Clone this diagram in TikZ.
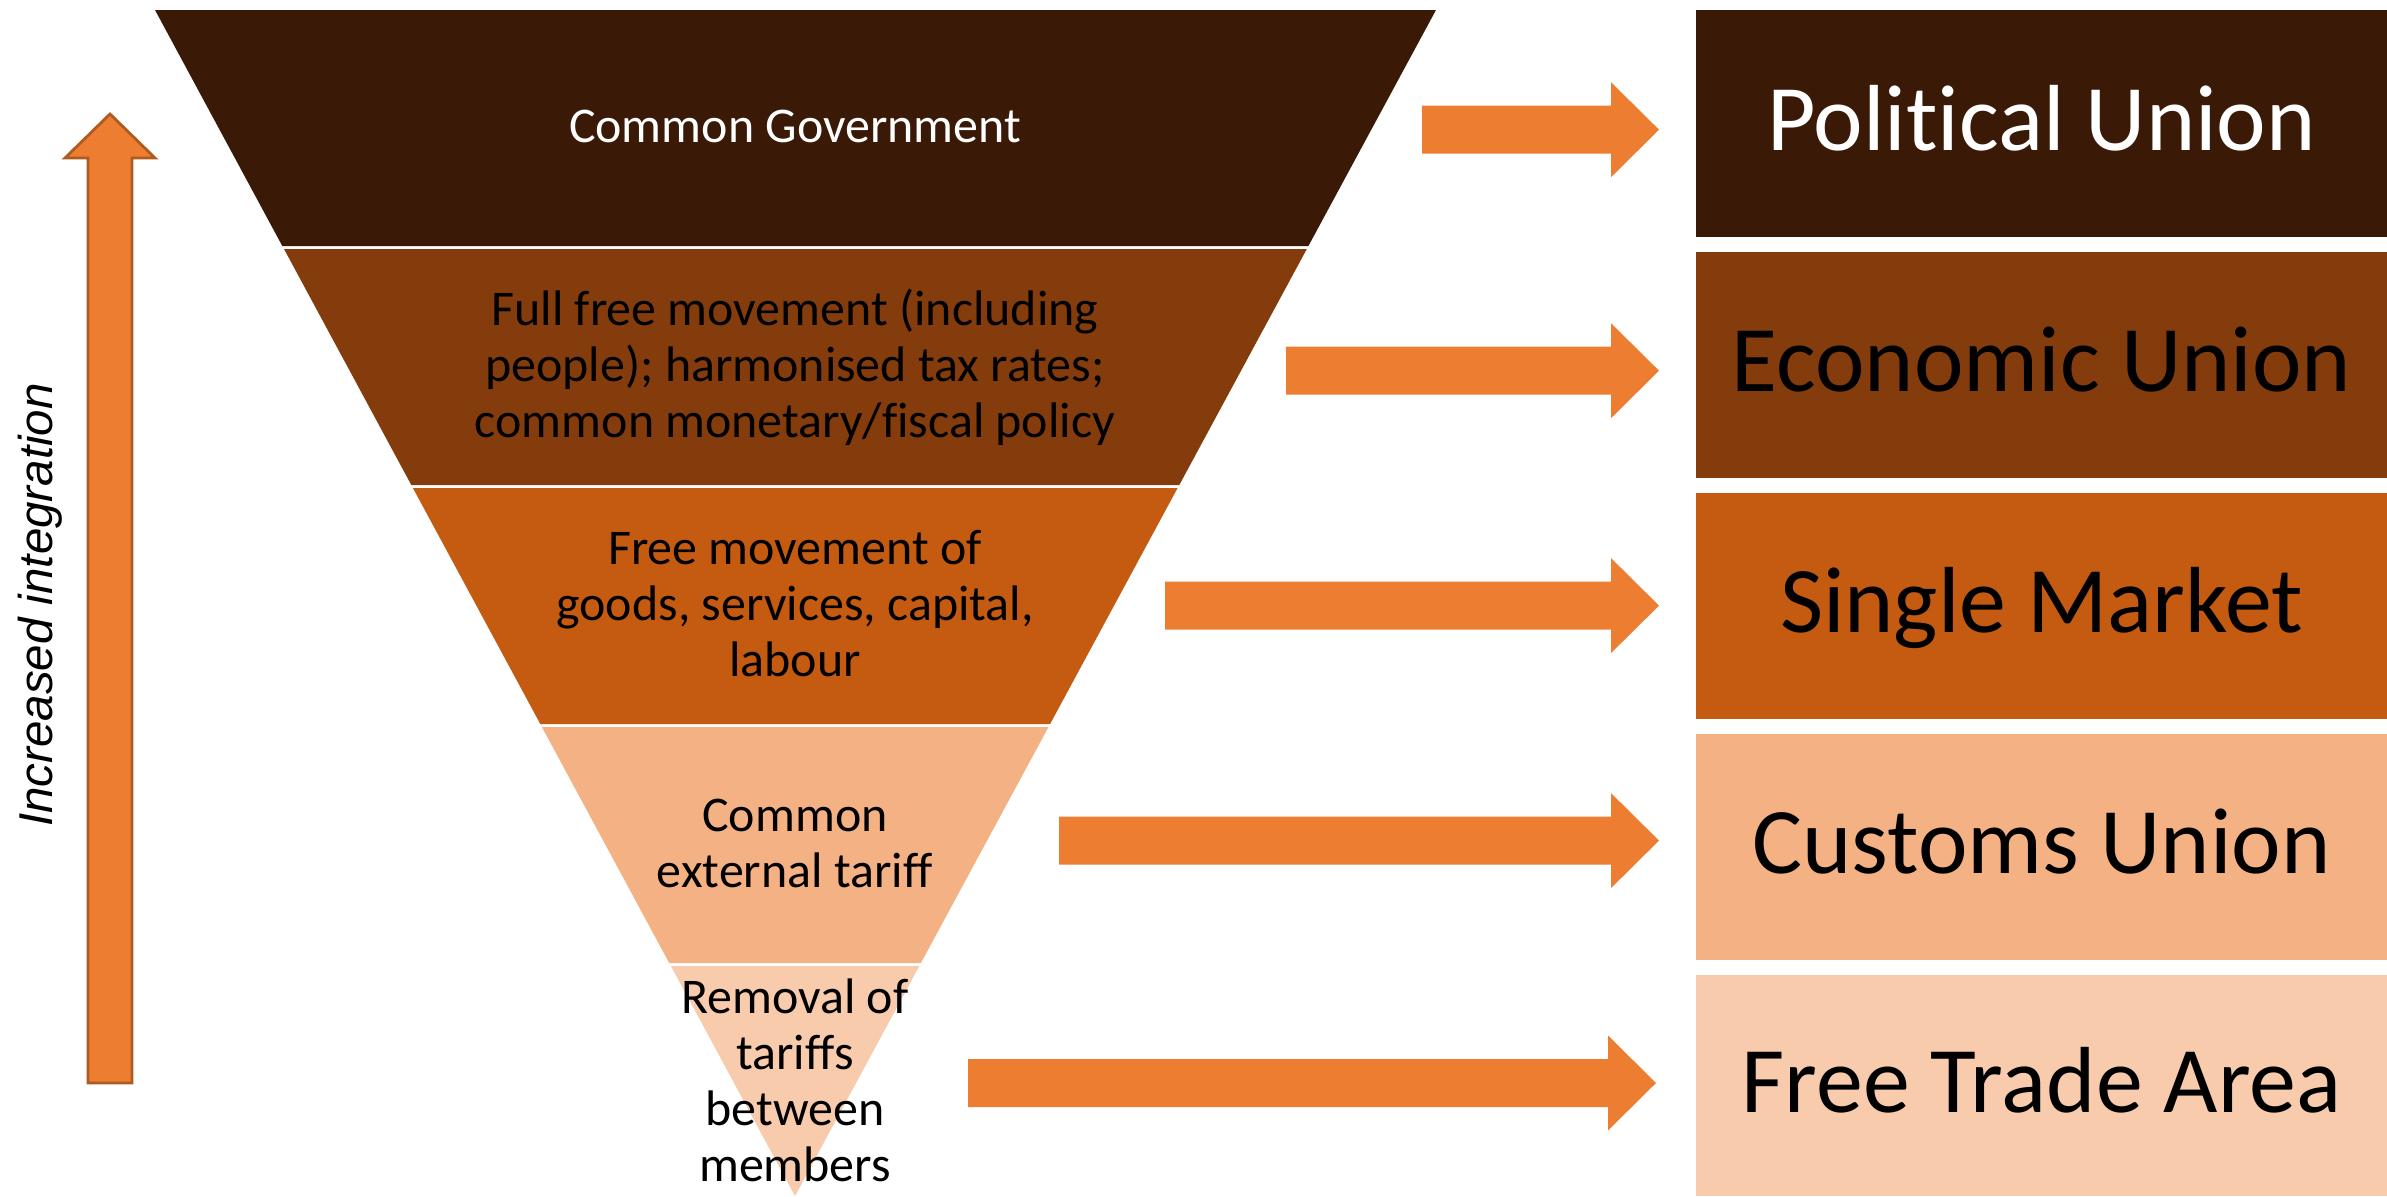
\documentclass[tikz,border=0pt]{standalone}
\usepackage{fontspec}
\setmainfont{Carlito}[RawFeature={-liga;-clig}]
\newfontfamily\arialfont{Liberation Sans}
\definecolor{cA}{HTML}{3A1A06}
\definecolor{cB}{HTML}{843C0C}
\definecolor{cC}{HTML}{C55A11}
\definecolor{cD}{HTML}{F4B183}
\definecolor{cE}{HTML}{F8CBAD}
\definecolor{arrfill}{HTML}{ED7D31}
\definecolor{arrline}{HTML}{AE5A21}
\newcommand\blockarr[3]{% start x, tip x, centre y
  \fill[arrowbody] (#1,{#3-24}) -- ({#2-48},{#3-24}) -- ({#2-48},{#3-47.5}) -- (#2,#3)
    -- ({#2-48},{#3+47.5}) -- ({#2-48},{#3+24}) -- (#1,{#3+24}) -- cycle;}
\begin{document}
\begin{tikzpicture}[x=0.01cm,y=-0.01cm,
  arrowbody/.style={fill=arrfill},
  funneltext/.style={align=center, inner sep=0pt,
    font=\fontsize{14.2pt}{15.9pt}\selectfont},
  levelbox/.style={minimum width=6.91cm, inner sep=0pt, outer sep=0pt,
    font=\fontsize{26.7pt}{32pt}\selectfont, text height=20pt, text depth=4.9pt},
  sidelabel/.style={inner sep=0pt, rotate=90, anchor=base,
    font=\arialfont\itshape\fontsize{13.5pt}{16pt}\selectfont}]
\useasboundingbox (0,0) rectangle (2387,1196);
% funnel layers
\fill[cA] (155,10) -- (1436,10) -- (1308.4,246) -- (282.3,246) -- cycle;
\fill[cB] (284.0,249) -- (1306.8,249) -- (1179.3,485) -- (411.3,485) -- cycle;
\fill[cC] (412.9,488) -- (1177.6,488) -- (1050.1,724) -- (540.3,724) -- cycle;
\fill[cD] (541.9,727) -- (1048.5,727) -- (920.9,963) -- (669.2,963) -- cycle;
\fill[cE] (670.9,966) -- (919.3,966) -- (795,1196) -- cycle;
% funnel texts
\node[funneltext, text=white] (t1) at (795,131) {\strut Common Government};
\node[funneltext] (t2) at (795,370) {\strut Full free movement (including\\people); harmonised tax rates;\\common monetary/fiscal policy\strut};
\node[funneltext] (t3) at (795,609) {\strut Free movement of\\goods, services, capital,\\labour\strut};
\node[funneltext] (t4) at (795,848) {\strut Common\\external tariff\strut};
\node[funneltext] (t5) at (795,1086) {\strut Removal of\\tariffs\\between\\members\strut};
% level boxes
\node[levelbox, fill=cA, text=white, minimum height=2.27cm] (pu) at (2041.5,123.5) {Political Union};
\node[levelbox, fill=cB, minimum height=2.265cm] (eu) at (2041.5,365) {Economic Union};
\node[levelbox, fill=cC, minimum height=2.255cm] (sm) at (2041.5,605.7) {Single Market};
\node[levelbox, fill=cD, minimum height=2.26cm] (cu) at (2041.5,847) {Customs Union};
\node[levelbox, fill=cE, minimum height=2.21cm] (fta) at (2041.5,1085.5) {Free Trade Area};
% block arrows
\blockarr{1422}{1659}{129.7}
\blockarr{1286}{1659}{370.7}
\blockarr{1165}{1659}{605.6}
\blockarr{1059}{1659}{840.6}
\blockarr{968}{1656}{1083}
% vertical arrow
\draw[fill=arrfill, draw=arrline, line width=0.8pt, line join=miter]
  (88,1083) -- (88,158) -- (65,158) -- (110,114) -- (155,158) -- (132,158) -- (132,1083) -- cycle;
\node[sidelabel] (lab) at (52,605) {Increased integration};
\end{tikzpicture}
\end{document}
